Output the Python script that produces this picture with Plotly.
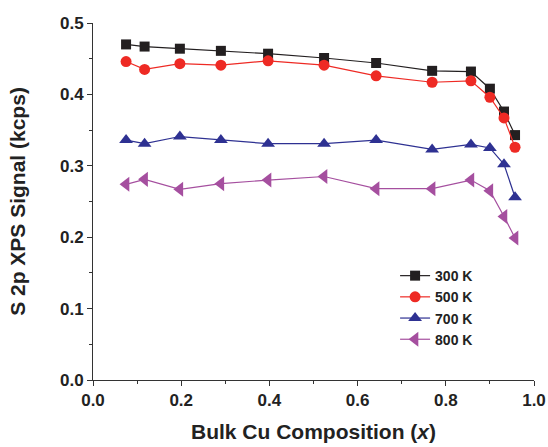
import plotly.graph_objects as go

x_comp = [0.075, 0.117, 0.197, 0.29, 0.397, 0.524, 0.642, 0.769, 0.857, 0.9, 0.932, 0.957]
s_300 = [0.470, 0.467, 0.464, 0.461, 0.457, 0.451, 0.444, 0.433, 0.432, 0.408, 0.376, 0.343]
s_500 = [0.446, 0.435, 0.443, 0.441, 0.447, 0.441, 0.426, 0.417, 0.419, 0.396, 0.367, 0.326]
s_700 = [0.336, 0.331, 0.341, 0.336, 0.331, 0.331, 0.336, 0.323, 0.330, 0.325, 0.302, 0.256]
s_800 = [0.274, 0.281, 0.267, 0.275, 0.280, 0.285, 0.268, 0.268, 0.280, 0.265, 0.229, 0.199]
names = ["300 K", "500 K", "700 K", "800 K"]
colors = ["#231f20", "#ee2a24", "#2e3192", "#a54f9f"]
symbols = ["square", "circle", "triangle-up", "triangle-left"]
sizes = [10, 11, 12, 13]

fig = go.Figure()
for name, ys, c, sym, sz in zip(names, [s_300, s_500, s_700, s_800], colors, symbols, sizes):
    fig.add_trace(go.Scatter(
        x=x_comp, y=ys, name=name, mode="lines+markers",
        line=dict(color=c, width=1.2),
        marker=dict(symbol=sym, size=sz, color=c, line=dict(width=0)),
    ))

font_family = "Liberation Sans, Arial, sans-serif"
fig.update_layout(
    width=548, height=447,
    margin=dict(l=93, r=14, t=23, b=67),
    paper_bgcolor="white", plot_bgcolor="white",
    font=dict(family=font_family, color="#222222"),
    showlegend=True,
    legend=dict(x=0.685, y=0.336, xanchor="left", yanchor="top",
                font=dict(size=14, family=font_family, weight="bold", color="#222222"),
                bgcolor="rgba(0,0,0,0)", tracegroupgap=0, itemwidth=30),
    xaxis=dict(
        range=[0, 1.0], dtick=0.2, tick0=0, tickformat=".1f", automargin=False,
        showgrid=False, zeroline=False, showline=True, linecolor="#333333", linewidth=1,
        ticks="outside", ticklen=5, tickcolor="#333333",
        minor=dict(ticks="outside", ticklen=3, dtick=0.1, tickcolor="#333333"),
        tickfont=dict(size=17, weight="bold", color="#222222"),
        title=dict(text="Bulk Cu Composition (<i>x</i>)", font=dict(size=21, weight="bold", color="#222222"), standoff=14),
    ),
    yaxis=dict(
        range=[0, 0.5], dtick=0.1, tick0=0, tickformat=".1f", automargin=False,
        showgrid=False, zeroline=False, showline=True, linecolor="#333333", linewidth=1,
        ticks="outside", ticklen=5, tickcolor="#333333",
        minor=dict(ticks="outside", ticklen=3, dtick=0.05, tickcolor="#333333"),
        tickfont=dict(size=17, weight="bold", color="#222222"),
        title=dict(text="S 2p XPS Signal (kcps)", font=dict(size=21, weight="bold", color="#222222"), standoff=28),
    ),
)

fig.write_html("out.html")
